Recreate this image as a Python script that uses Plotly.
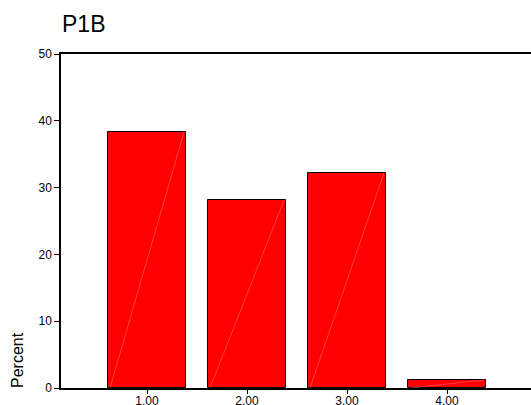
import plotly.graph_objects as go

categories = [1, 2, 3, 4]
tick_labels = ["1.00", "2.00", "3.00", "4.00"]
percent = [38.3, 28.1, 32.2, 1.2]
title_text = "P1B"
y_title = "Percent"

bar_width = 0.78
fig = go.Figure()
fig.add_trace(go.Bar(
    x=categories, y=percent, width=bar_width,
    marker=dict(color="#ff0000", line=dict(color="#000000", width=1)),
    showlegend=False, hoverinfo="skip",
))
# thin diagonal highlight line inside each bar (bottom-left to top-right)
for c, v in zip(categories, percent):
    fig.add_trace(go.Scatter(
        x=[c - bar_width / 2 + 0.02, c + bar_width / 2 - 0.02], y=[0, v],
        mode="lines", line=dict(color="rgba(255,160,160,0.8)", width=0.5),
        showlegend=False, hoverinfo="skip",
    ))

fig.update_layout(
    width=531, height=405,
    margin=dict(l=61, r=0, t=54, b=17, autoexpand=False),
    paper_bgcolor="white", plot_bgcolor="white",
    font=dict(family="Liberation Sans, Arial, sans-serif", color="#000000", size=12),
    bargap=0,
    annotations=[
        dict(text=title_text, xref="paper", yref="paper", x=0, y=1,
             xanchor="left", yanchor="bottom", yshift=15, xshift=-1,
             showarrow=False, font=dict(size=23, color="#000000")),
        dict(text=y_title, xref="paper", yref="paper", x=0, y=0,
             xanchor="center", yanchor="bottom", xshift=-44, yshift=-2,
             textangle=-90, showarrow=False, font=dict(size=16, color="#000000")),
    ],
)
fig.update_xaxes(
    range=[0.14, 4.84], tickvals=categories, ticktext=tick_labels,
    showline=True, linecolor="#000000", linewidth=1.5, mirror=True,
    ticks="outside", ticklen=4, tickcolor="#000000", automargin=False,
    ticklabelstandoff=-3,
    showgrid=False, zeroline=False, tickfont=dict(size=12, color="#000000"),
)
fig.update_yaxes(
    range=[0, 50], tickvals=[0, 10, 20, 30, 40, 50],
    showline=True, linecolor="#000000", linewidth=1.5, automargin=False,
    ticks="outside", ticklen=5, tickcolor="#000000",
    showgrid=False, zeroline=False, tickfont=dict(size=12, color="#000000"),
)
fig.write_html(
    "out.html",
    config={"displayModeBar": False},
    post_script="document.body.style.margin='0';document.body.style.overflow='hidden';",
)
